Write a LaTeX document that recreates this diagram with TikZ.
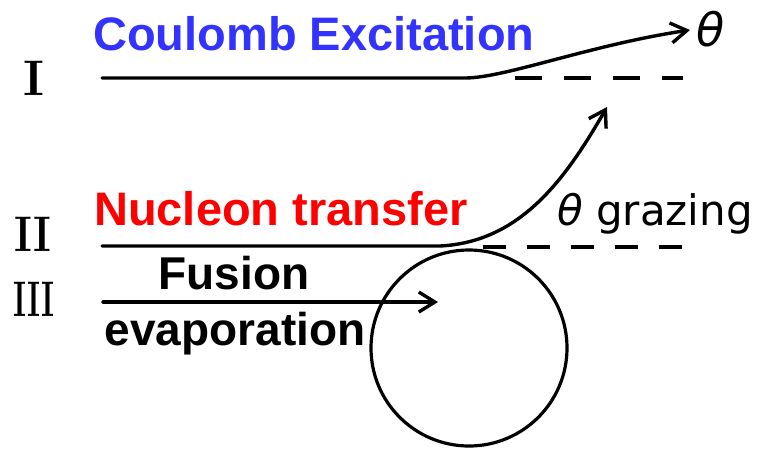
\documentclass[tikz,border=0pt]{standalone}
\usepackage{fontspec}
\newfontfamily\arialfont{Liberation Sans}
\newfontfamily\dejafont{DejaVu Sans}
\usetikzlibrary{arrows.meta}
\definecolor{cblue}{RGB}{51,51,255}
\definecolor{cred}{RGB}{255,0,0}
\begin{document}
\begin{tikzpicture}[x=1pt,y=-1pt,
  traj/.style={line width=3.4pt, line cap=round},
  arrowtip/.style={-{Straight Barb[length=16pt,width=20pt]}},
  guidei/.style={line width=3.2pt, dash pattern=on 27pt off 22pt},
  guideii/.style={line width=3.2pt, dash pattern=on 23pt off 21pt},
  numeral/.style={font=\bfseries\fontsize{50}{50}\selectfont, inner sep=0pt, anchor=base},
  title/.style={font=\arialfont\bfseries\fontsize{47}{47}\selectfont, inner sep=0pt, anchor=base west},
  thetalbl/.style={font=\dejafont\fontsize{42}{42}\selectfont, inner sep=0pt, anchor=base west}
]
\useasboundingbox (0,0) rectangle (766,451);

% roman numerals
\node[numeral] (nI) at (34,95) {I};
\node[numeral] (nII) at (33,251) {\scalebox{0.85}[1]{II}};
\node[numeral] (nIII) at (34,316) {\scalebox{0.62}[1]{III}};

% titles
\node[title, text=cblue] (coul) at (93,50) {Coulomb Excitation};
\node[title, text=cred] (nucl) at (94,225) {Nucleon transfer};
\node[title, font=\arialfont\bfseries\fontsize{46}{46}\selectfont, anchor=base] (fus) at (234,289) {Fusion};
\node[title, font=\arialfont\bfseries\fontsize{46}{46}\selectfont, anchor=base] (evap) at (235,345) {evaporation};

% nucleus
\node[draw, circle, minimum size=196pt, inner sep=0pt, line width=3.2pt] (nucleus) at (469,348) {};

% coordinates
\coordinate (sI) at (102,78);
\coordinate (kI) at (465,78);
\coordinate (eI) at (690,30);
\coordinate (sII) at (102,246);
\coordinate (kII) at (440,246);
\coordinate (eII) at (607,107);
\coordinate (sIII) at (103,302);
\coordinate (eIII) at (438,302);
\coordinate (dIa) at (515,78);
\coordinate (dIb) at (683,78);
\coordinate (dIIa) at (483,247);
\coordinate (dIIb) at (683,247);

% trajectories
\draw[traj, arrowtip] (sI) -- (kI) .. controls (505,78) and (590,45) .. (eI);
\draw[traj, arrowtip] (sII) -- (kII) .. controls (520,242) and (565,180) .. (eII);
\draw[traj, arrowtip] (sIII) -- (eIII);

% dashed reference lines
\draw[guidei] (dIa) -- (dIb);
\draw[guideii] (dIIa) -- (dIIb);

% angle labels
\node[thetalbl, font=\dejafont\itshape\fontsize{46}{46}\selectfont] (thI) at (696,46) {θ};
\node[thetalbl] (graz) at (557,225) {{\itshape θ} grazing};
\end{tikzpicture}
\end{document}
